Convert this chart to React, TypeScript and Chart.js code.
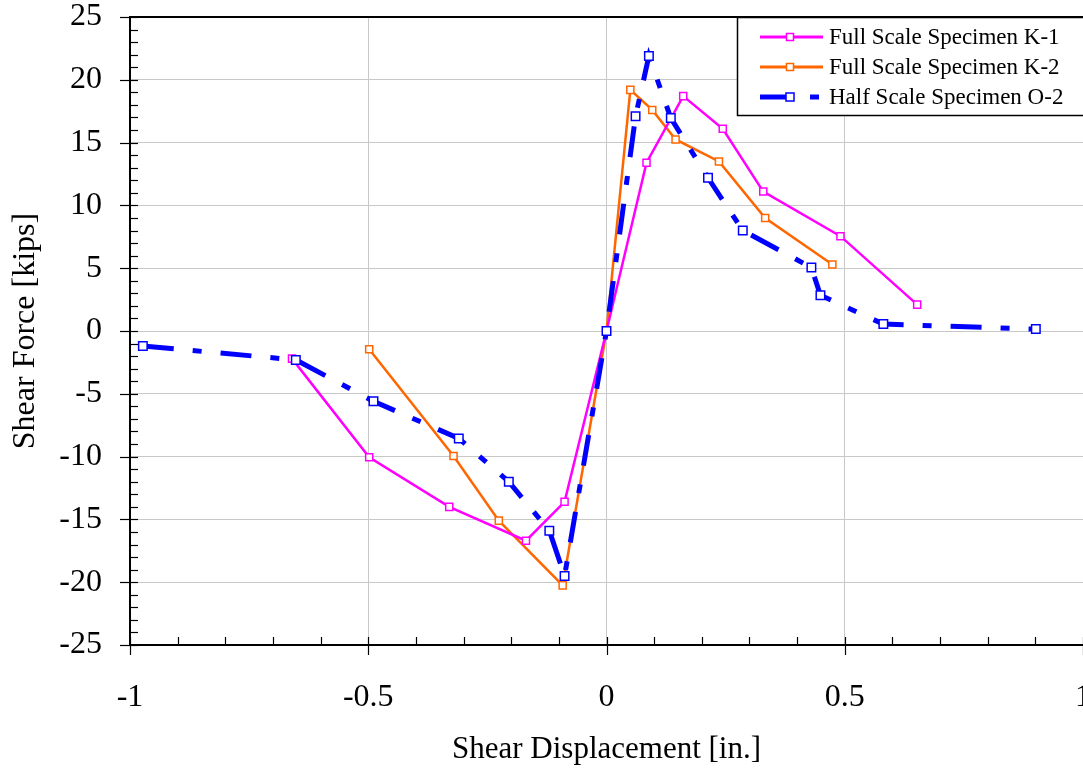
import React, { useEffect, useRef } from 'react';
import { Chart, registerables } from 'chart.js';

Chart.register(...registerables);

// ---- Data ----
const k1X = [-0.660, -0.498, -0.330, -0.169, -0.088, 0, 0.084, 0.161, 0.244, 0.329, 0.491, 0.652];
const k1Y = [-2.2, -10.05, -14.0, -16.7, -13.6, 0, 13.4, 18.7, 16.1, 11.1, 7.55, 2.1];

const k2X = [-0.498, -0.321, -0.226, -0.092, 0, 0.050, 0.096, 0.145, 0.236, 0.333, 0.474];
const k2Y = [-1.45, -9.95, -15.1, -20.25, 0, 19.2, 17.6, 15.25, 13.5, 9.0, 5.3];

const o2X = [-0.973, -0.652, -0.489, -0.310, -0.205, -0.120, -0.088, 0, 0.061, 0.089, 0.135, 0.213, 0.286, 0.430, 0.449, 0.581, 0.901];
const o2Y = [-1.2, -2.3, -5.6, -8.55, -12.0, -15.9, -19.5, 0, 17.1, 21.9, 16.95, 12.2, 8.0, 5.05, 2.85, 0.55, 0.15];

const seriesLabels = ['Full Scale Specimen K-1', 'Full Scale Specimen K-2', 'Half Scale Specimen O-2'];
const seriesColors = ['#FF00FF', '#FF6600', '#0000FF'];

const xTitle = 'Shear Displacement [in.]';
const yTitle = 'Shear Force [kips]';

const X_MIN = -1, X_MAX = 1, X_MINOR = 0.1, X_MAJOR = 0.5;
const Y_MIN = -25, Y_MAX = 25, Y_MINOR = 1, Y_MAJOR = 5;

const FONT = "'Liberation Serif', 'Times New Roman', serif";
const O2_DASH = [31, 19, 9, 19];

const zip = (xs: number[], ys: number[]) => xs.map((x, i) => ({ x, y: ys[i] }));
const isMult = (v: number, m: number) => Math.abs(v / m - Math.round(v / m)) < 1e-6;

const framePlugin = {
  id: 'framePlugin',
  afterDraw(chart: any) {
    const { ctx, chartArea: a, scales } = chart;
    const xs = scales.x, ys = scales.y;
    ctx.save();
    ctx.strokeStyle = '#000';
    // top border
    ctx.lineWidth = 2;
    ctx.beginPath();
    ctx.moveTo(a.left - 1, a.top);
    ctx.lineTo(a.right + 2, a.top);
    ctx.stroke();
    // y tick marks
    ctx.lineWidth = 1.2;
    const nY = Math.round((Y_MAX - Y_MIN) / Y_MINOR);
    for (let i = 0; i <= nY; i++) {
      const v = Y_MIN + i * Y_MINOR;
      const py = Math.round(ys.getPixelForValue(v)) + 0.5;
      const major = isMult(v, Y_MAJOR);
      ctx.beginPath();
      ctx.moveTo(a.left - (major ? 10 : 0), py);
      ctx.lineTo(a.left + 8, py);
      ctx.stroke();
    }
    // x tick marks
    const nX = Math.round((X_MAX - X_MIN) / X_MINOR);
    for (let i = 0; i <= nX; i++) {
      const v = X_MIN + i * X_MINOR;
      const px = Math.round(xs.getPixelForValue(v)) + 0.5;
      const major = isMult(v, X_MAJOR);
      ctx.beginPath();
      ctx.moveTo(px, a.bottom - 8);
      ctx.lineTo(px, a.bottom + (major ? 10 : 0));
      ctx.stroke();
    }
    // legend box
    const bx = 737, by = 17, bw = 360, bh = 98;
    ctx.fillStyle = '#fff';
    ctx.fillRect(bx, by, bw, bh);
    ctx.lineWidth = 1.5;
    ctx.strokeRect(bx + 0.5, by + 0.5, bw, bh);
    const rows = [37, 67, 97];
    chart.data.datasets.forEach((ds: any, i: number) => {
      const ry = rows[i];
      ctx.save();
      ctx.strokeStyle = ds.borderColor;
      ctx.lineWidth = i === 2 ? 5 : 3;
      ctx.setLineDash(i === 2 ? O2_DASH : []);
      ctx.beginPath();
      ctx.moveTo(760, ry);
      ctx.lineTo(823, ry);
      ctx.stroke();
      ctx.setLineDash([]);
      ctx.fillStyle = '#fff';
      ctx.lineWidth = 1.5;
      const s = i === 2 ? 8 : 7;
      ctx.fillRect(790 - s / 2, ry - s / 2, s, s);
      ctx.strokeRect(790 - s / 2, ry - s / 2, s, s);
      ctx.restore();
      ctx.fillStyle = '#000';
      ctx.font = `23px ${FONT}`;
      ctx.textBaseline = 'middle';
      ctx.textAlign = 'left';
      ctx.fillText(ds.label, 829, ry + 1);
    });
    ctx.restore();
  },
};

export default function App() {
  const ref = useRef<HTMLCanvasElement>(null);
  useEffect(() => {
    document.body.style.margin = '0';
    document.body.style.overflow = 'hidden';
    const canvas = ref.current!;
    const mk = (i: number, xs: number[], ys: number[], extra: any) => ({
      label: seriesLabels[i],
      data: zip(xs, ys),
      showLine: true,
      borderColor: seriesColors[i],
      pointStyle: 'rect',
      pointBorderColor: seriesColors[i],
      pointBackgroundColor: '#ffffff',
      pointBorderWidth: 1.5,
      tension: 0,
      ...extra,
    });
    const chart = new Chart(canvas, {
      type: 'scatter',
      data: {
        datasets: [
          mk(0, k1X, k1Y, { borderWidth: 2.5, pointRadius: 5, order: 1 }),
          mk(1, k2X, k2Y, { borderWidth: 2.5, pointRadius: 5, order: 2 }),
          mk(2, o2X, o2Y, { borderWidth: 5, borderDash: O2_DASH, pointRadius: 6, order: 0 }),
        ],
      } as any,
      options: {
        responsive: false,
        animation: false,
        layout: { autoPadding: false, padding: { left: 0, right: 0, top: 17, bottom: 0 } },
        plugins: { legend: { display: false }, tooltip: { enabled: false } },
        scales: {
          x: {
            type: 'linear',
            min: X_MIN,
            max: X_MAX,
            afterFit: (s: any) => { s.height = 127; s.paddingLeft = 0; s.paddingRight = 0; },
            ticks: {
              stepSize: X_MINOR,
              autoSkip: false,
              maxRotation: 0,
              padding: 33,
              color: '#000',
              font: { family: FONT, size: 32 },
              callback: (v: any) => (isMult(Number(v), X_MAJOR) ? String(Math.round(Number(v) * 10) / 10) : ''),
            },
            grid: {
              drawTicks: false,
              lineWidth: 1,
              color: (c: any) => (c.tick && isMult(c.tick.value, X_MAJOR) ? '#c8c8c8' : 'rgba(0,0,0,0)'),
            },
            border: { color: '#000', width: 2 },
            title: { display: true, text: xTitle, color: '#000', font: { family: FONT, size: 31 }, padding: { top: 0, bottom: 4 } },
          },
          y: {
            type: 'linear',
            min: Y_MIN,
            max: Y_MAX,
            afterFit: (s: any) => { s.width = 130; s.paddingTop = 0; s.paddingBottom = 0; },
            ticks: {
              stepSize: Y_MINOR,
              autoSkip: false,
              padding: 28,
              color: '#000',
              font: { family: FONT, size: 32 },
              callback: (v: any) => (isMult(Number(v), Y_MAJOR) ? String(Math.round(Number(v))) : ''),
            },
            grid: {
              drawTicks: false,
              lineWidth: 1,
              color: (c: any) => (c.tick && isMult(c.tick.value, Y_MAJOR) ? '#c8c8c8' : 'rgba(0,0,0,0)'),
            },
            border: { color: '#000', width: 2 },
            title: { display: true, text: yTitle, color: '#000', font: { family: FONT, size: 32 }, padding: { top: 6, bottom: 0 } },
          },
        },
      } as any,
      plugins: [framePlugin],
    });
    return () => chart.destroy();
  }, []);
  return <canvas ref={ref} width={1083} height={772} style={{ display: 'block' }} />;
}
